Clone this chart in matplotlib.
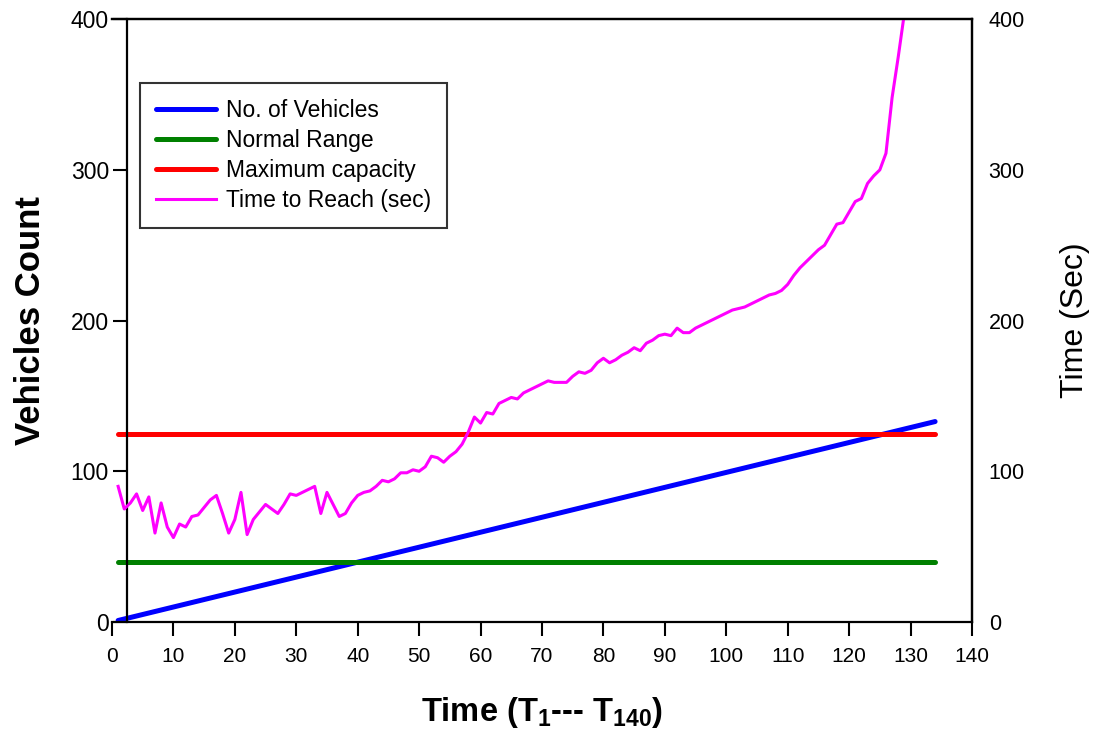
import numpy as np
import matplotlib
matplotlib.use("Agg")
import matplotlib.pyplot as plt

plt.rcParams['font.family'] = ['Liberation Sans', 'DejaVu Sans']
plt.rcParams['mathtext.fontset'] = 'custom'
plt.rcParams['mathtext.rm'] = 'Liberation Sans'
plt.rcParams['mathtext.bf'] = 'Liberation Sans:bold'

# Data
vehicleTime = [1, 134]
vehicleCount = [1, 133]
normalRange = [40, 40]
maxCapacity = [125, 125]

reachTime = list(range(1, 130))
reachSec = [90, 75, 79, 85, 74, 83, 59, 79, 63, 56,
            65, 63, 70, 71, 76, 81, 84, 72, 59, 68,
            86, 58, 68, 73, 78, 75, 72, 78, 85, 84,
            86, 88, 90, 72, 86, 78, 70, 72, 79, 84,
            86, 87, 90, 94, 93, 95, 99, 99, 101, 100,
            103, 110, 109, 106, 110, 113, 118, 126, 136, 132,
            139, 138, 145, 147, 149, 148, 152, 154, 156, 158,
            160, 159, 159, 159, 163, 166, 165, 167, 172, 175,
            172, 174, 177, 179, 182, 180, 185, 187, 190, 191,
            190, 195, 192, 192, 195, 197, 199, 201, 203, 205,
            207, 208, 209, 211, 213, 215, 217, 218, 220, 224,
            230, 235, 239, 243, 247, 250, 257, 264, 265, 272,
            279, 281, 291, 296, 300, 311, 348, 375, 404]

xTicks = list(range(0, 141, 10))
yTicks = [0, 100, 200, 300, 400]

# Plotting
fig = plt.figure(figsize=(11, 7.38), dpi=100)
ax = fig.add_axes([0.1018, 0.1572, 0.7818, 0.8168])
ax2 = ax.twinx()

l1, = ax.plot(vehicleTime, vehicleCount, color="#0000FF", lw=3.6,
              solid_capstyle="round", label="No. of Vehicles")
l2, = ax.plot(vehicleTime, normalRange, color="#008000", lw=3.6,
              solid_capstyle="round", label="Normal Range")
l3, = ax.plot(vehicleTime, maxCapacity, color="#FF0000", lw=3.6,
              solid_capstyle="round", label="Maximum capacity")
l4, = ax2.plot(reachTime, reachSec, color="#FF00FF", lw=2.2,
               label="Time to Reach (sec)")

ax.set_xlim(0, 140)
ax.set_ylim(0, 400)
ax2.set_ylim(0, 400)
ax.set_xticks(xTicks)
ax.set_yticks(yTicks)
ax2.set_yticks(yTicks)

# left axis line sits a bit inside the frame, like the original
ax.spines['left'].set_position(('axes', 0.0174))
for s in ['left', 'bottom', 'top', 'right']:
    ax.spines[s].set_linewidth(1.6)
    ax2.spines[s].set_linewidth(1.6)
ax2.spines['left'].set_visible(False)
ax2.spines['bottom'].set_visible(False)

ax.tick_params(axis='y', direction='out', length=10, width=1.5, labelsize=16.5, pad=3)
ax.tick_params(axis='x', direction='out', length=10, width=1.5, labelsize=15, pad=8)
ax2.tick_params(axis='y', length=0, labelsize=15.5, pad=12)

ax.set_xlabel("Time (T$_\\mathbf{1}$--- T$_\\mathbf{140}$)", fontsize=23.5,
              fontweight="bold", labelpad=21)
ax.set_ylabel("Vehicles Count", fontsize=25, fontweight="bold", labelpad=17)
ax2.set_ylabel("Time (Sec)", fontsize=23, labelpad=25)

leg = ax2.legend(handles=[l1, l2, l3, l4], loc="upper left",
                 bbox_to_anchor=(0.033, 0.894), borderaxespad=0,
                 fontsize=16.5, frameon=True, fancybox=False,
                 edgecolor="black", handlelength=2.6, borderpad=0.7,
                 labelspacing=0.3, handletextpad=0.45)
leg.get_frame().set_linewidth(1.5)
leg._legend_box.sep = 6

fig.savefig("out.png", dpi=100)
